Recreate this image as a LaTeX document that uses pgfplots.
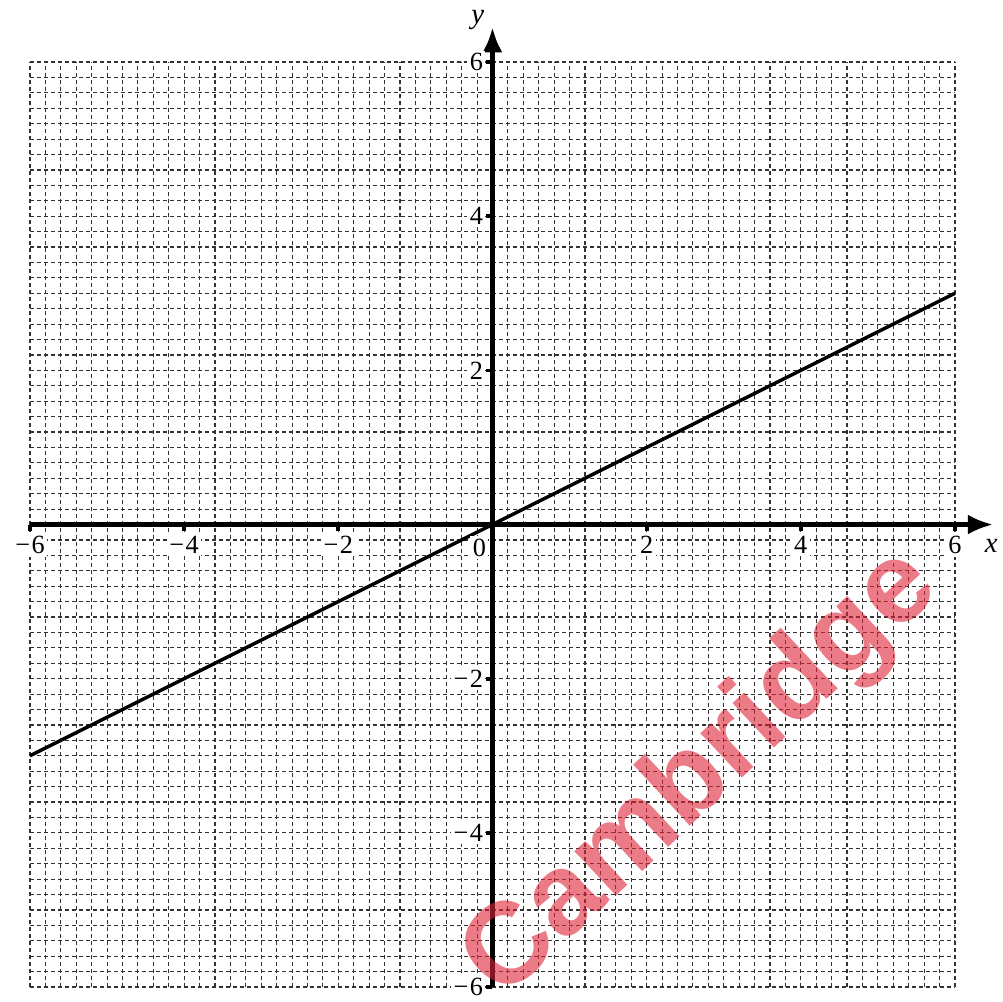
\documentclass[border=0pt]{standalone}
\usepackage{fontspec}
\setmainfont{Liberation Serif}
\newfontfamily\wmfont{Liberation Sans}
\usepackage{pgfplots}
\pgfplotsset{compat=1.18}
\usetikzlibrary{arrows.meta}
\definecolor{wmred}{RGB}{220,35,55}
\begin{document}
\begin{tikzpicture}
\begin{axis}[
  scale only axis, width=370pt, height=370pt,
  xmin=-6, xmax=6, ymin=-6, ymax=6,
  axis lines=middle,
  clip=false,
  x axis line style={line width=1.8pt, -{Latex[length=10pt,width=8pt]}, shorten >=-15.2pt},
  y axis line style={line width=1.8pt, -{Latex[length=10pt,width=8pt]}, shorten >=-13.9pt},
  xtick={-6,-4,-2,2,4,6},
  ytick={-6,-4,-2,2,4,6},
  xticklabels={−\kern0.6pt6,−\kern0.6pt4,−\kern0.6pt2,2,4,6},
  yticklabels={−\kern0.6pt6,−\kern0.6pt4,−\kern0.6pt2,2,4,6},
  minor xtick={-6,-5.8,-5.6,-5.4,-5.2,-5,-4.8,-4.6,-4.4,-4.2,-4,-3.8,-3.6,-3.4,-3.2,-3,-2.8,-2.6,-2.4,-2.2,-2,-1.8,-1.6,-1.4,-1.2,-1,-0.8,-0.6,-0.4,-0.2,0,0.2,0.4,0.6,0.8,1,1.2,1.4,1.6,1.8,2,2.2,2.4,2.6,2.8,3,3.2,3.4,3.6,3.8,4,4.2,4.4,4.6,4.8,5,5.2,5.4,5.6,5.8,6},
  minor ytick={-6,-5.8,-5.6,-5.4,-5.2,-5,-4.8,-4.6,-4.4,-4.2,-4,-3.8,-3.6,-3.4,-3.2,-3,-2.8,-2.6,-2.4,-2.2,-2,-1.8,-1.6,-1.4,-1.2,-1,-0.8,-0.6,-0.4,-0.2,0,0.2,0.4,0.6,0.8,1,1.2,1.4,1.6,1.8,2,2.2,2.4,2.6,2.8,3,3.2,3.4,3.6,3.8,4,4.2,4.4,4.6,4.8,5,5.2,5.4,5.6,5.8,6},
  minor grid style={black!80, line width=0.45pt, dash pattern=on 1.8pt off 1.0pt},
  major grid style={draw=none},
  grid=minor,
  minor tick length=0pt,
  major tick length=2.6pt,
  tick align=outside,
  major tick style={black, line width=1.5pt},
  tick label style={fill=white, inner sep=1pt, font=\fontsize{10.5}{12}\selectfont},
  xticklabel style={yshift=-1pt},
]
\node[rotate=43, text=wmred, opacity=0.6, font=\wmfont\bfseries\fontsize{46}{46}\selectfont] at (axis cs:2.72,-3.25) {Cambridge};
\addplot[black, line width=1.4pt] coordinates {(-6,-3) (6,3)};
\node[fill=white, inner sep=1pt, font=\fontsize{10.5}{12}\selectfont] at (axis cs:-0.17,-0.3) {0};
\node[font=\fontsize{11.5}{12}\selectfont\itshape] at (axis cs:6.47,-0.28) {x};
\node[font=\fontsize{11.5}{12}\selectfont\itshape] at (axis cs:-0.19,6.55) {y};
\coordinate (bl) at (axis cs:-6.389,-6.182);
\coordinate (tr) at (axis cs:6.623,6.805);
\end{axis}
\pgfresetboundingbox
\path[use as bounding box] (bl) rectangle (tr);
\end{tikzpicture}
\end{document}
